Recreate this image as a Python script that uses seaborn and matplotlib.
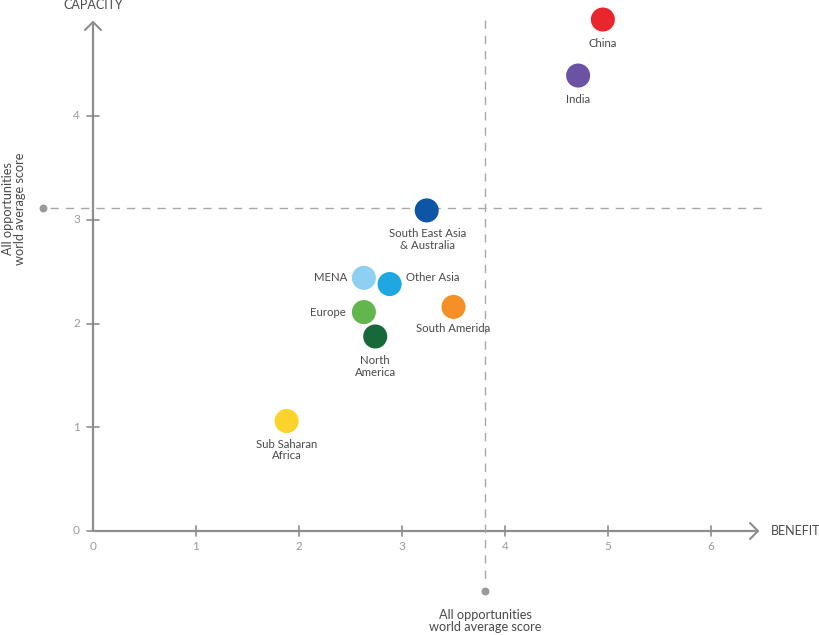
import numpy as np
import pandas as pd
import matplotlib
matplotlib.use('Agg')
import matplotlib.pyplot as plt
import seaborn as sns

regions = ['China', 'India', 'South East Asia\n& Australia', 'MENA', 'Other Asia',
           'Europe', 'North\nAmerica', 'South Amerida', 'Sub Saharan\nAfrica']
benefit = [4.95, 4.71, 3.24, 2.63, 2.88, 2.63, 2.74, 3.50, 1.88]
capacity = [4.93, 4.39, 3.09, 2.44, 2.38, 2.11, 1.875, 2.16, 1.06]
colors = ['#e8262b', '#6b52a3', '#0d55a5', '#8ed0f2', '#1ea7e1',
          '#63b54d', '#17693a', '#f58f28', '#fcd32b']

avg_benefit = 3.81
avg_capacity = 3.11
x_ticks = [0, 1, 2, 3, 4, 5, 6]
y_ticks = [0, 1, 2, 3, 4]

# label placement: (dx, dy) in pixels, ha
label_pos = {
    'China': (0, -24, 'center'),
    'India': (0, -24, 'center'),
    'South East Asia\n& Australia': (1, -29, 'center'),
    'MENA': (-17, 0, 'right'),
    'Other Asia': (16, 7, 'left'),
    'Europe': (-18, 0, 'right'),
    'North\nAmerica': (0, -30, 'center'),
    'South Amerida': (0, -22, 'center'),
    'Sub Saharan\nAfrica': (0, -29, 'center'),
}

sns.set_theme(style='white')
plt.rcParams['font.family'] = ['Lato', 'DejaVu Sans']

fig = plt.figure(figsize=(8.2, 6.35), dpi=100)
ax = fig.add_axes([0, 0, 1, 1])
ax.set_xlim(-93 / 103, (820 - 93) / 103)
ax.set_ylim(-(635 - 531) / 103.75, 531 / 103.75)
ax.axis('off')


def px(x):
    return (x - 93) / 103


def py(y):
    return (531 - y) / 103.75


axis_c = '#8d8d8d'
tick_c = '#9a9a9a'
text_c = '#4a4a4a'

# axes with arrows
ax.plot([0, px(758)], [0, 0], color=axis_c, lw=1.6, solid_capstyle='butt')
ax.plot([0, 0], [0, py(22)], color=axis_c, lw=1.6, solid_capstyle='butt')
ax.plot([px(750), px(758), px(750)], [py(523), py(531), py(539)], color=axis_c, lw=1.5)
ax.plot([px(85), px(93), px(101)], [py(30), py(22), py(30)], color=axis_c, lw=1.5)

for t in x_ticks:
    if t > 0:
        ax.plot([t, t], [py(526), py(536)], color=axis_c, lw=1.2)
    ax.text(t, py(547), str(t), ha='center', va='center', fontsize=8.5, color=tick_c)
for t in y_ticks:
    ax.plot([px(87), px(99) if t > 0 else 0], [t, t], color=axis_c, lw=1.2)
    ax.text(px(80), t, str(t), ha='right', va='center', fontsize=8.5, color=tick_c)

ax.text(px(771), 0, 'BENEFIT', ha='left', va='center', fontsize=9, color=text_c)
ax.text(0, py(5), 'CAPACITY', ha='center', va='center', fontsize=9, color=text_c)

# world average reference lines
ax.plot([px(50), px(762)], [avg_capacity, avg_capacity], color='#a8a8a8', lw=1,
        dashes=(6, 5))
ax.plot([avg_benefit, avg_benefit], [py(20), py(584)], color='#a8a8a8', lw=1,
        dashes=(6, 5))
ax.scatter([px(43), avg_benefit], [avg_capacity, py(591)], s=22, color='#9a9a9a', zorder=3)
ax.text(px(14), avg_capacity, 'All opportunities\nworld average score', rotation=90,
        ha='center', va='center', fontsize=9.2, color=text_c, linespacing=1.05)
ax.text(avg_benefit, py(621), 'All opportunities\nworld average score',
        ha='center', va='center', fontsize=9.2, color=text_c, linespacing=1.05)

df = pd.DataFrame({'region': regions, 'benefit': benefit, 'capacity': capacity})
sns.scatterplot(data=df, x='benefit', y='capacity', hue='region', palette=colors,
                s=300, linewidth=0, legend=False, ax=ax, zorder=4)

for r, xv, yv in zip(regions, benefit, capacity):
    dx, dy, ha = label_pos[r]
    ax.annotate(r, (xv, yv), xytext=(dx * 0.72, dy * 0.72), textcoords='offset points',
                ha=ha, va='center', fontsize=8.2, color=text_c, linespacing=1.05)

fig.savefig('out.png', dpi=100, facecolor='white')
